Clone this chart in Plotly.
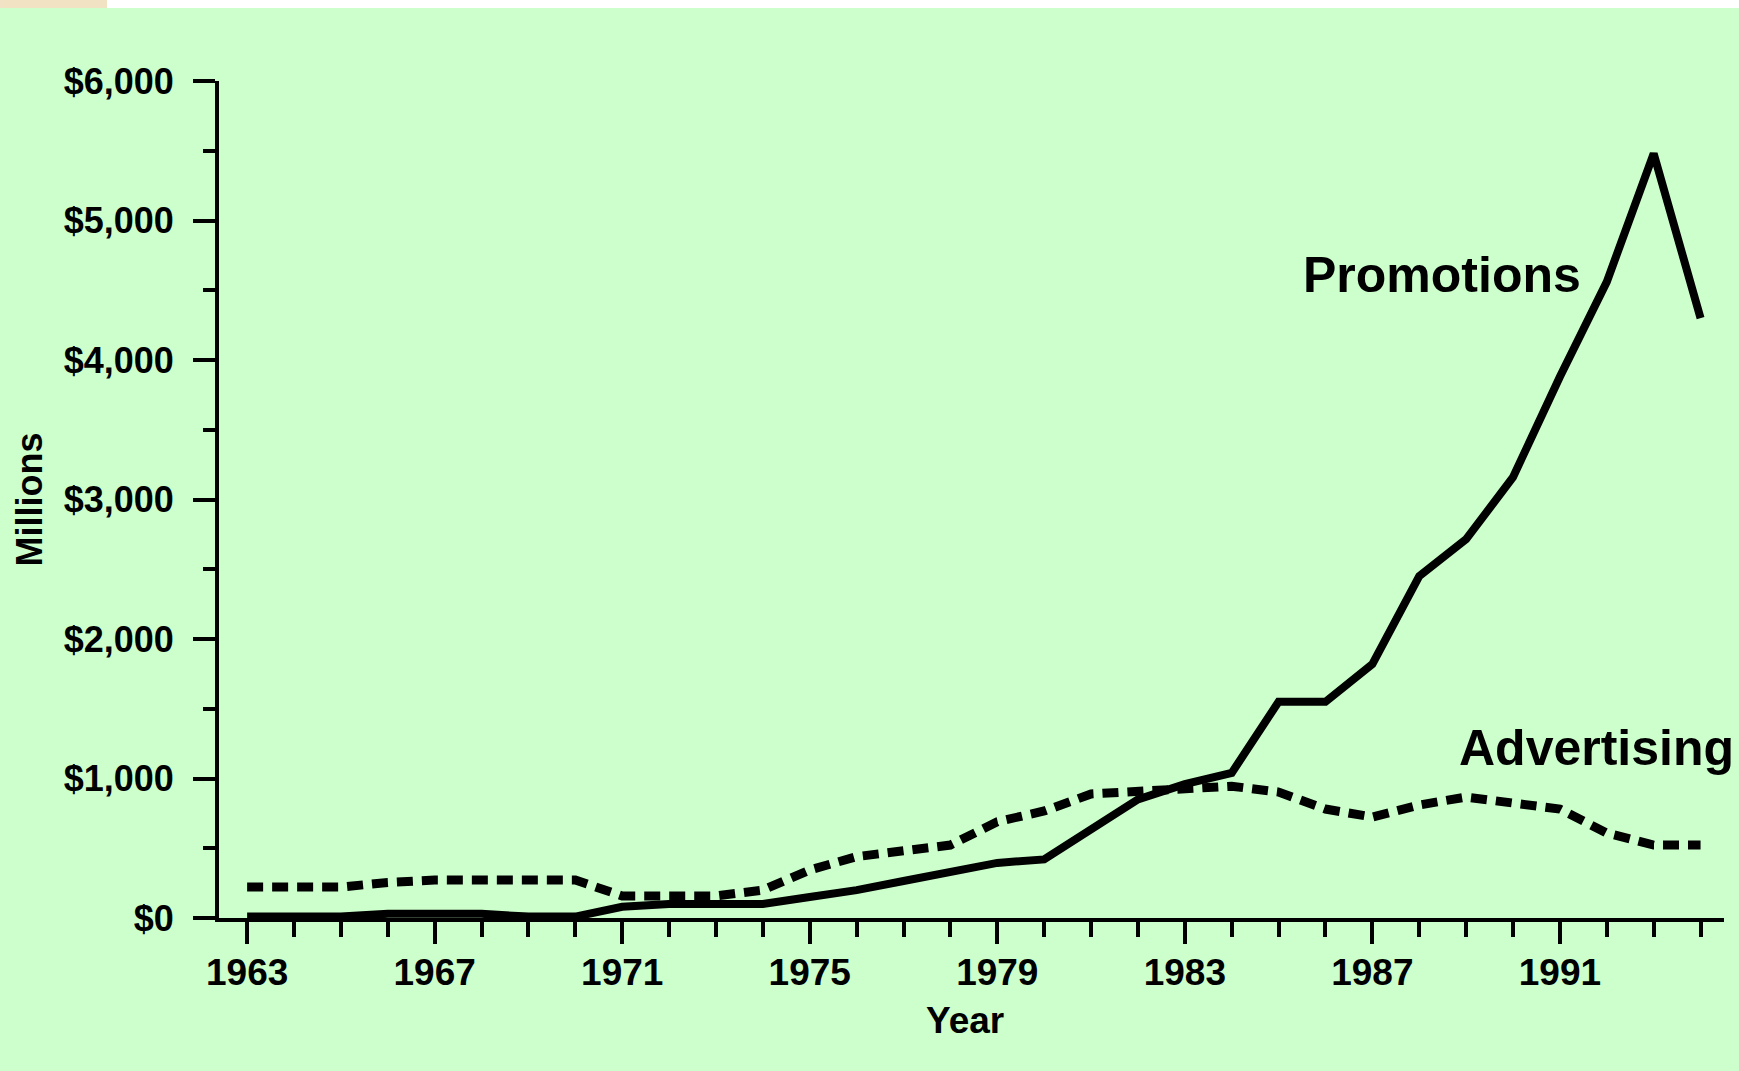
import plotly.graph_objects as go

# Annual spending, millions of dollars
years = list(range(1963, 1995))
promotions = [10, 10, 10, 30, 30, 30, 10, 10, 80, 100, 100, 100, 150, 200, 265, 330,
              395, 420, 630, 850, 960, 1040, 1550, 1550, 1820, 2450, 2715, 3160,
              3880, 4560, 5480, 4300]
advertising = [222, 222, 222, 255, 272, 272, 272, 272, 158, 158, 158, 200, 344, 440,
               480, 523, 690, 767, 889, 910, 940, 945, 903, 781, 724, 810, 867, 832,
               781, 609, 523, 523]

y_ticks = [0, 1000, 2000, 3000, 4000, 5000, 6000]

BG = "#CCFFCC"
WIDE = "Liberation Sans, Arial, sans-serif"

fig = go.Figure()
fig.add_trace(go.Scatter(
    x=years, y=advertising, mode="lines", name="Advertising",
    line=dict(color="black", width=9, dash="16px,9px"),
))
fig.add_trace(go.Scatter(
    x=years, y=promotions, mode="lines", name="Promotions",
    line=dict(color="black", width=8),
))

# series labels next to their lines
fig.add_annotation(x=1988.48, y=4609, xref="x", yref="y", text="Promotions",
                   showarrow=False, xanchor="center", yanchor="middle",
                   font=dict(family=WIDE, size=50, color="black", weight="bold"))
fig.add_annotation(x=1991.77, y=1222, xref="x", yref="y", text="Advertising",
                   showarrow=False, xanchor="center", yanchor="middle",
                   font=dict(family=WIDE, size=50, color="black", weight="bold"))

# axis titles
fig.add_annotation(x=-0.1262, y=0.5, xref="paper", yref="paper", text="Millions",
                   showarrow=False, textangle=-90, xanchor="center", yanchor="middle",
                   font=dict(family=WIDE, size=36, color="black", weight="bold"))
fig.add_annotation(x=0.4957, y=-0.1219, xref="paper", yref="paper", text="Year",
                   showarrow=False, xanchor="center", yanchor="middle",
                   font=dict(family=WIDE, size=37, color="black", weight="bold"))

# white strip along the top edge with a beige corner
fig.add_shape(type="rect", xref="paper", yref="paper", layer="below",
              x0=-0.1455, x1=1.0100, y0=1.0872, y1=1.0970,
              fillcolor="white", line=dict(width=0))
fig.add_shape(type="rect", xref="paper", yref="paper", layer="below",
              x0=-0.1455, x1=-0.0744, y0=1.0872, y1=1.0970,
              fillcolor="#F2E2C4", line=dict(width=0))

fig.update_layout(
    width=1739, height=1071,
    margin=dict(l=219, r=15, t=81, b=153, pad=0),
    paper_bgcolor=BG, plot_bgcolor=BG,
    showlegend=False,
    separators=".,",
)

fig.update_xaxes(
    range=[1962.4, 1994.5],
    showgrid=False, zeroline=False,
    showline=True, linecolor="black", linewidth=4,
    ticks="outside", tickmode="linear", tick0=1963, dtick=4,
    ticklen=22, tickwidth=4, tickcolor="black",
    minor=dict(ticks="outside", tick0=1963, dtick=1, ticklen=15,
               tickwidth=4, tickcolor="black", showgrid=False),
    tickfont=dict(family=WIDE, size=37, color="black", weight="bold"),
    ticklabelstandoff=-3,
)
fig.update_yaxes(
    range=[0, 6000],
    showgrid=False, zeroline=False,
    showline=True, linecolor="black", linewidth=4,
    ticks="outside", tickmode="array", tickvals=y_ticks,
    ticktext=[f"${v:,}" for v in y_ticks],
    ticklen=22, tickwidth=4, tickcolor="black",
    minor=dict(ticks="outside", tick0=0, dtick=500, ticklen=12,
               tickwidth=4, tickcolor="black", showgrid=False),
    tickfont=dict(family=WIDE, size=36, color="black", weight="bold"),
    ticklabelstandoff=12,
)

fig.write_html("out.html")
